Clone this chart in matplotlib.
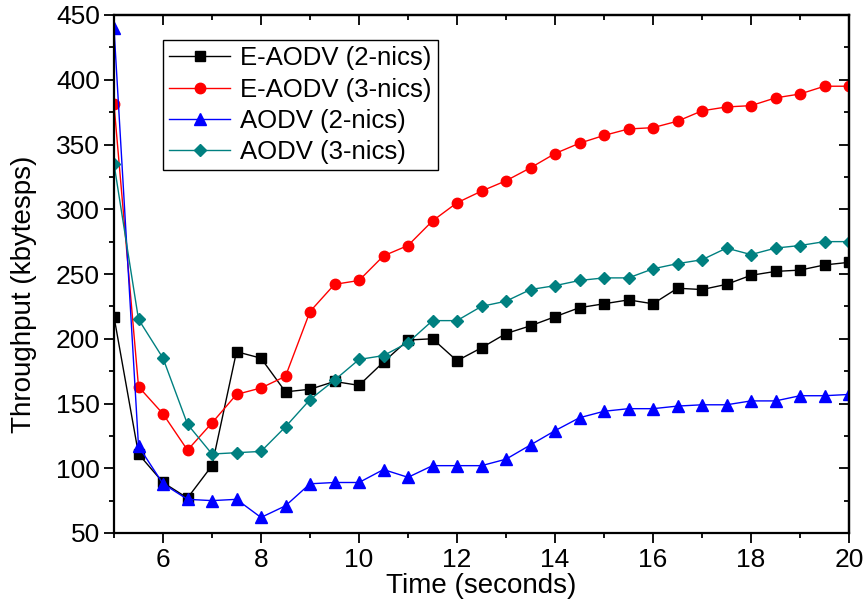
import matplotlib
matplotlib.use("Agg")
import matplotlib.pyplot as plt
from matplotlib.ticker import MultipleLocator

time = [5 + 0.5 * i for i in range(31)]

eaodv_2 = [217, 111, 89, 77, 102, 190, 185, 159, 161, 167, 164, 182, 199, 200, 183, 193,
           204, 210, 217, 224, 227, 230, 227, 239, 238, 242, 249, 252, 253, 257, 259]
eaodv_3 = [381, 163, 142, 114, 135, 157, 162, 171, 221, 242, 245, 264, 272, 291, 305, 314,
           322, 332, 343, 351, 357, 362, 363, 368, 376, 379, 380, 386, 389, 395, 395]
aodv_2 = [440, 117, 88, 76, 75, 76, 62, 71, 88, 89, 89, 99, 93, 102, 102, 102,
          107, 118, 129, 139, 144, 146, 146, 148, 149, 149, 152, 152, 156, 156, 157]
aodv_3 = [335, 215, 185, 134, 111, 112, 113, 132, 153, 168, 184, 187, 197, 214, 214, 225,
          229, 238, 241, 245, 247, 247, 254, 258, 261, 270, 265, 270, 272, 275, 275]

labels = ["E-AODV (2-nics)", "E-AODV (3-nics)", "AODV (2-nics)", "AODV (3-nics)"]
xticks = [6, 8, 10, 12, 14, 16, 18, 20]
yticks = [50, 100, 150, 200, 250, 300, 350, 400, 450]

fam = ["Liberation Sans", "DejaVu Sans"]
plt.rcParams["font.family"] = fam

fig = plt.figure(figsize=(8.67, 6.10), dpi=100)
ax = fig.add_axes([114 / 867, 1 - 533 / 610, (849 - 114) / 867, (533 - 15) / 610])

ax.plot(time, eaodv_2, color="black", marker="s", ms=6.5, lw=1.0, label=labels[0])
ax.plot(time, eaodv_3, color="#FF0000", marker="o", ms=7.5, lw=1.0, label=labels[1])
ax.plot(time, aodv_2, color="#0000FF", marker="^", ms=8, lw=1.0, label=labels[2])
ax.plot(time, aodv_3, color="#008080", marker="D", ms=6.5, lw=1.0, label=labels[3])

ax.set_xlim(5, 20)
ax.set_ylim(50, 450)
ax.set_xticks(xticks)
ax.set_yticks(yticks)
ax.xaxis.set_minor_locator(MultipleLocator(1))
ax.yaxis.set_minor_locator(MultipleLocator(25))

for s in ax.spines.values():
    s.set_linewidth(1.6)

ax.tick_params(which="both", direction="out", width=1.3, top=False, right=False)
ax.tick_params(which="major", length=7)
ax.tick_params(which="minor", length=3.6)
ax.tick_params(axis="both", labelsize=19)
ax.tick_params(axis="y", pad=3)
ax.tick_params(axis="x", pad=4)

# inward ticks on top and right
ax2 = ax.secondary_xaxis("top")
ax2.set_xticks(xticks)
ax2.xaxis.set_minor_locator(MultipleLocator(1))
ax2.tick_params(which="both", direction="in", width=1.3, labeltop=False)
ax2.tick_params(which="major", length=7)
ax2.tick_params(which="minor", length=3.6)
ax2.spines["top"].set_linewidth(1.6)
ax3 = ax.secondary_yaxis("right")
ax3.set_yticks(yticks)
ax3.yaxis.set_minor_locator(MultipleLocator(25))
ax3.tick_params(which="both", direction="in", width=1.3, labelright=False)
ax3.tick_params(which="major", length=7)
ax3.tick_params(which="minor", length=3.6)
ax3.spines["right"].set_linewidth(1.6)

ax.set_xlabel("Time (seconds)", fontsize=20)
ax.xaxis.set_label_coords(0.5, (533 - 573) / 518)
ax.set_ylabel("Throughput (kbytesps)", fontsize=20)
ax.yaxis.set_label_coords((37 - 114) / 735, (533 - 294) / 518)

leg = ax.legend(loc="upper left", bbox_to_anchor=((163 - 114) / 735, (533 - 40) / 518),
                prop={"size": 18.5},
                frameon=True, fancybox=False, edgecolor="black", framealpha=1,
                labelspacing=0.28, handlelength=2.35, handletextpad=0.4, borderpad=0.25,
                borderaxespad=0)
leg.get_frame().set_linewidth(1.0)

fig.savefig("out.png", dpi=100)
